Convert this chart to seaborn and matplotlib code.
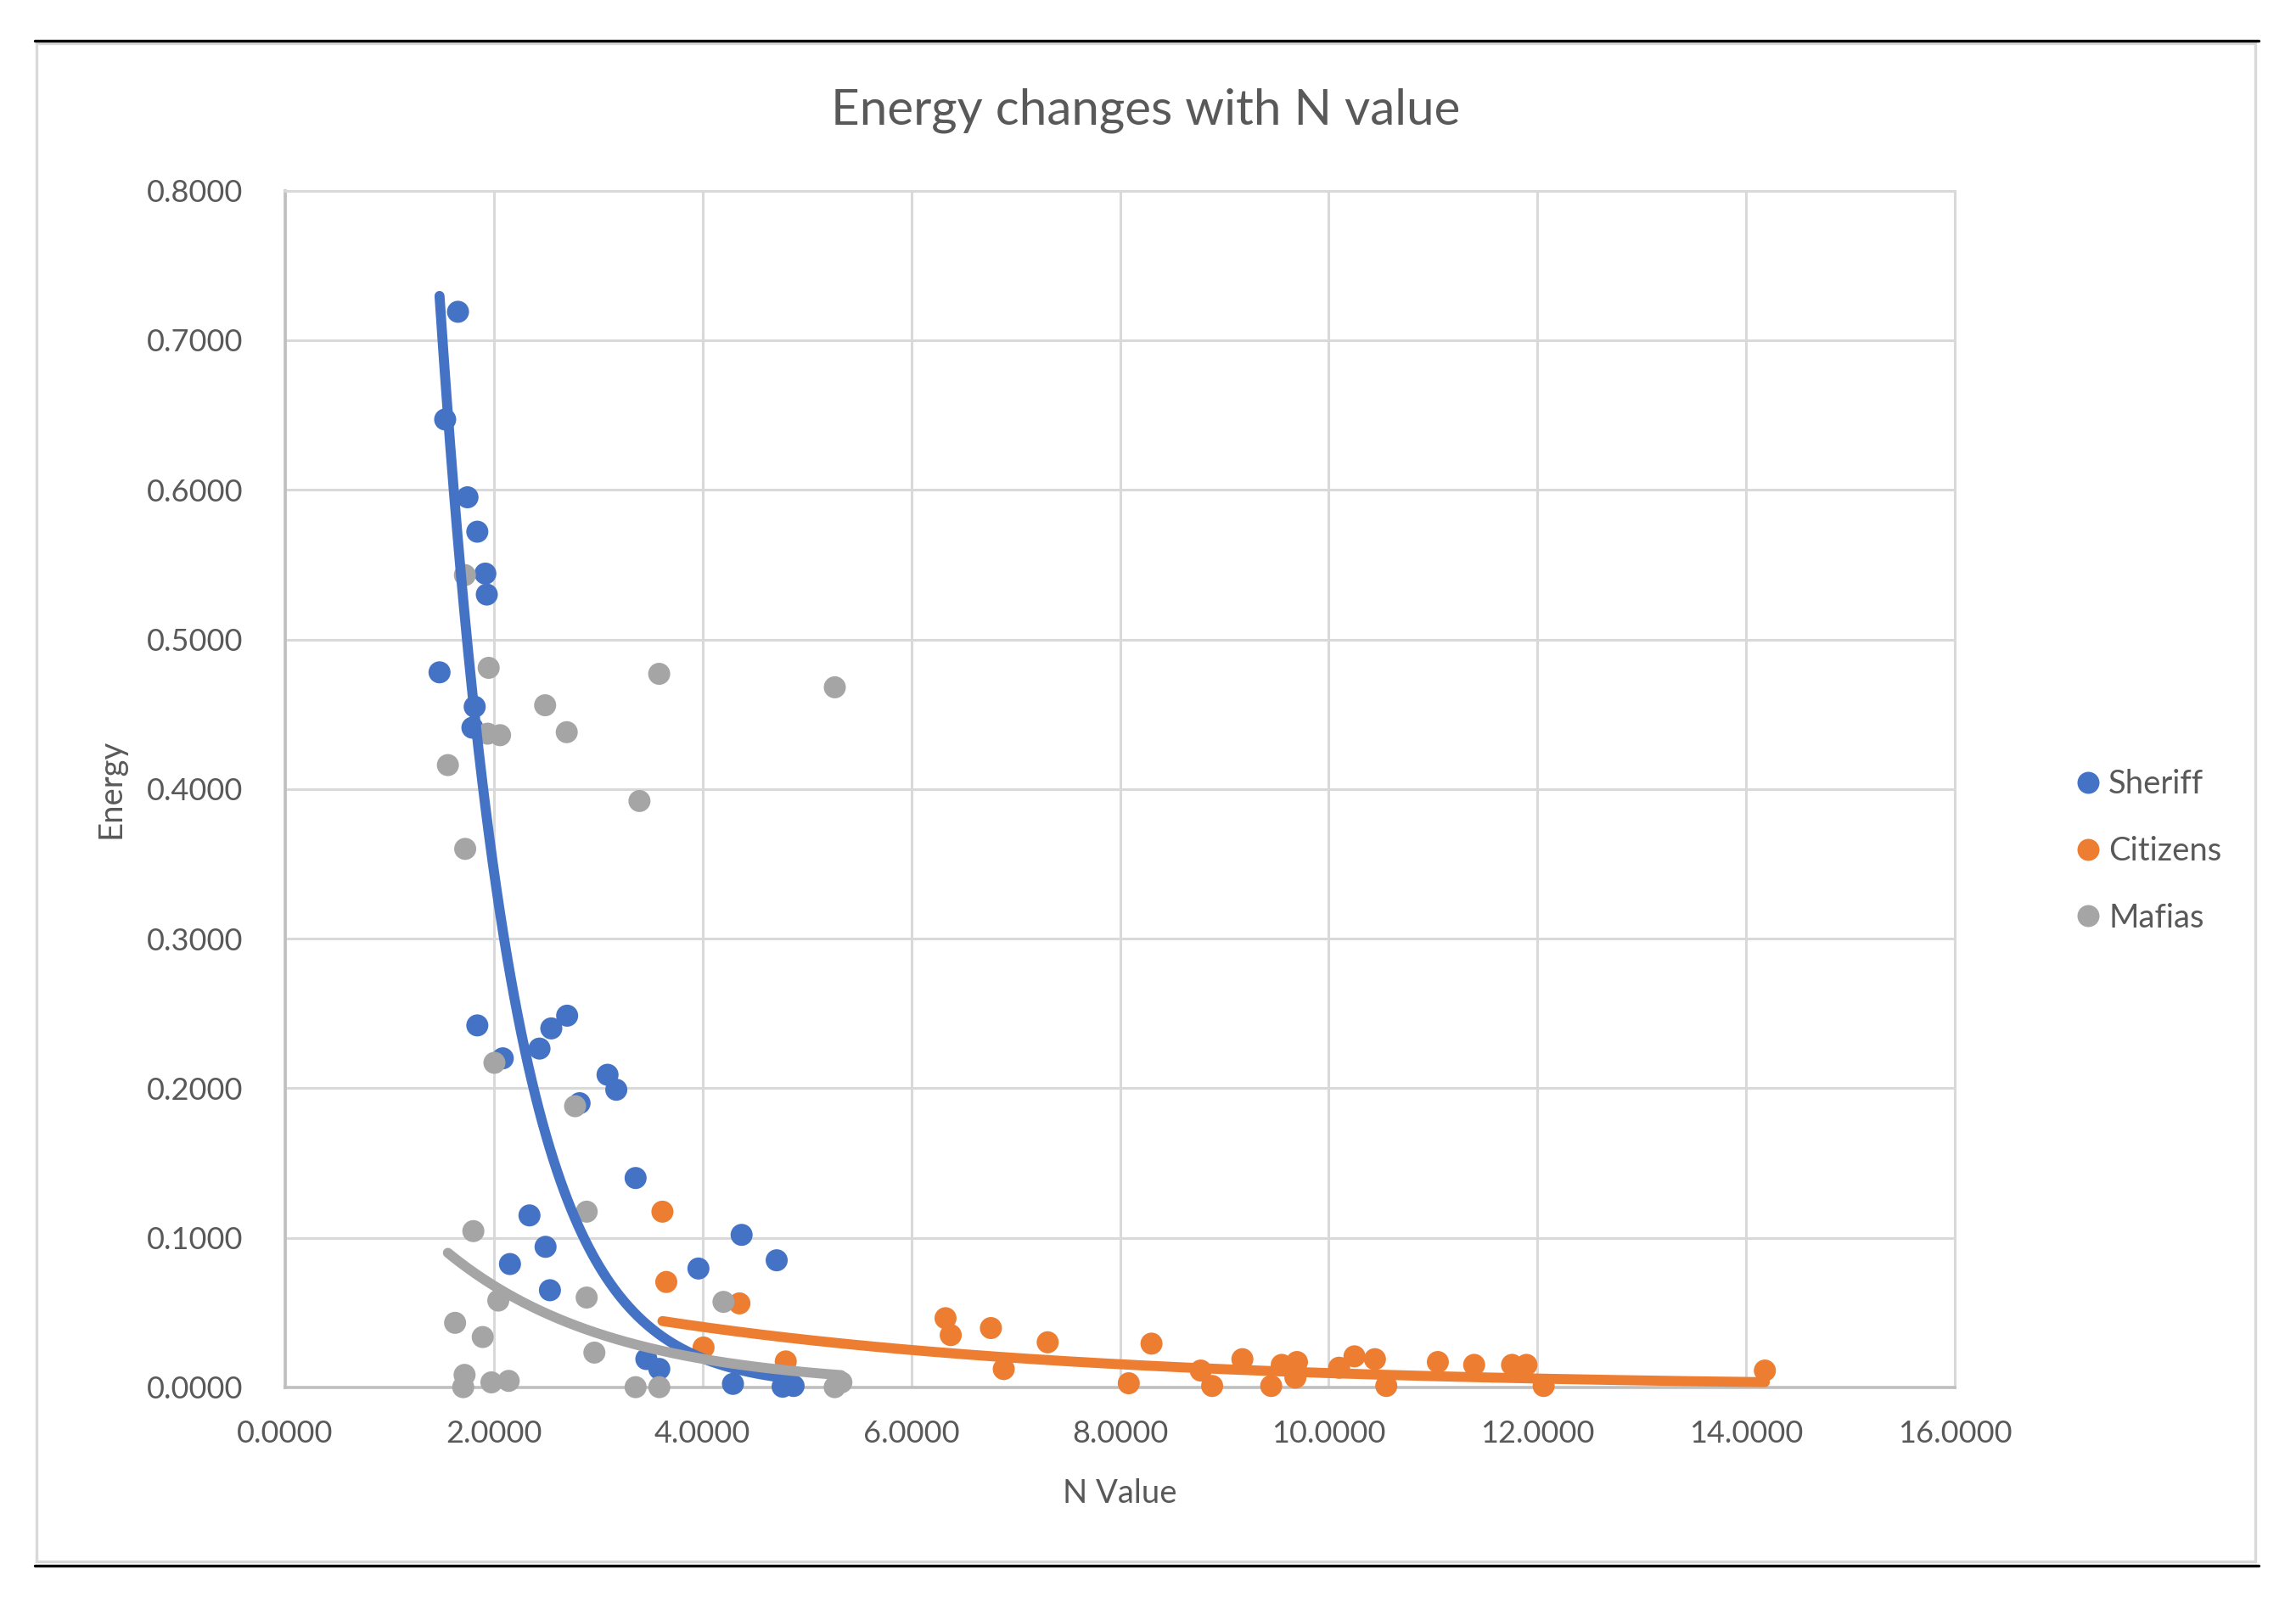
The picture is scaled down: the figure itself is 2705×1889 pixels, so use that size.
import numpy as np
import pandas as pd
import matplotlib
matplotlib.use("Agg")
import matplotlib.pyplot as plt
from matplotlib.lines import Line2D
from matplotlib.patches import Rectangle
from matplotlib.ticker import FormatStrFormatter
import seaborn as sns

# ---------------- data ----------------
sheriff_n = [1.656, 1.533, 1.747, 1.841, 1.918, 1.932, 1.479, 1.816, 1.794,
             1.841, 2.702, 2.550, 2.437, 2.085, 3.089, 3.173, 2.821, 3.358,
             2.341, 2.495, 2.154, 2.537, 3.960, 4.374, 4.710, 3.461, 3.585,
             4.291, 4.767, 4.872]
sheriff_energy = [0.719, 0.647, 0.595, 0.572, 0.544, 0.530, 0.478, 0.455, 0.441,
                  0.242, 0.2485, 0.240, 0.2265, 0.220, 0.209, 0.199, 0.190, 0.140,
                  0.115, 0.094, 0.0825, 0.065, 0.0795, 0.102, 0.085, 0.019, 0.0124,
                  0.0024, 0.0005, 0.0010]

citizens_n = [3.615, 3.652, 4.009, 4.353, 4.797, 6.328, 6.378, 6.763, 6.886,
              7.307, 8.084, 8.302, 8.774, 8.883, 9.173, 9.449, 9.550, 9.681,
              9.696, 10.100, 10.247, 10.443, 10.552, 11.046, 11.394, 11.757,
              11.895, 12.060, 14.180]
citizens_energy = [0.1175, 0.0705, 0.0267, 0.0562, 0.0174, 0.0463, 0.0350, 0.0397,
                   0.0123, 0.0302, 0.0028, 0.0293, 0.0113, 0.0010, 0.0189, 0.0010,
                   0.0151, 0.0066, 0.0170, 0.0132, 0.0208, 0.0189, 0.0010, 0.0170,
                   0.0151, 0.0151, 0.0151, 0.0010, 0.0113]

mafias_n = [1.722, 1.950, 3.584, 5.267, 2.491, 2.698, 2.059, 1.940, 1.559,
            3.395, 1.725, 2.005, 2.778, 2.889, 1.803, 2.042, 2.889, 4.200,
            1.628, 1.893, 2.963, 1.719, 1.706, 1.976, 2.142, 3.358, 3.585,
            5.266, 5.330]
mafias_energy = [0.543, 0.481, 0.477, 0.468, 0.456, 0.438, 0.436, 0.437, 0.416,
                 0.392, 0.360, 0.217, 0.188, 0.1175, 0.1045, 0.0581, 0.0601, 0.0572,
                 0.0432, 0.0337, 0.0233, 0.0084, 0.0002, 0.0034, 0.0044, 0.0002,
                 0.0002, 0.0002, 0.0034]

series_names = ["Sheriff", "Citizens", "Mafias"]
series_colors = {"Sheriff": "#4472C4", "Citizens": "#ED7D31", "Mafias": "#A5A5A5"}

x_ticks = [0, 2, 4, 6, 8, 10, 12, 14, 16]
y_ticks = [0.0, 0.1, 0.2, 0.3, 0.4, 0.5, 0.6, 0.7, 0.8]

chart_title = "Energy changes with N value"
x_title = "N Value"
y_title = "Energy"

# ---------------- style ----------------
sns.set_style("white")
plt.rcParams["font.family"] = ["Lato", "DejaVu Sans"]
TEXT = "#595959"
GRID = "#D9D9D9"
AXIS = "#BFBFBF"

W, H = 2705, 1889
DPI = 100
fig = plt.figure(figsize=(W / DPI, H / DPI), dpi=DPI, facecolor="white")

# plot area in pixels
PL, PR, PT, PB = 336, 2303, 224.6, 1635
ax = fig.add_axes([PL / W, 1 - PB / H, (PR - PL) / W, (PB - PT) / H])

df = pd.concat([
    pd.DataFrame({"N": sheriff_n, "Energy": sheriff_energy, "Series": "Sheriff"}),
    pd.DataFrame({"N": citizens_n, "Energy": citizens_energy, "Series": "Citizens"}),
    pd.DataFrame({"N": mafias_n, "Energy": mafias_energy, "Series": "Mafias"}),
], ignore_index=True)

sns.scatterplot(data=df, x="N", y="Energy", hue="Series", hue_order=series_names,
                palette=series_colors, s=350, linewidth=0, legend=False,
                ax=ax, zorder=3)
for coll in ax.collections:
    coll.set_clip_on(False)

# exponential trendlines (least squares on log(y), like Excel)
for name, xs, ys in [("Sheriff", sheriff_n, sheriff_energy),
                     ("Citizens", citizens_n, citizens_energy),
                     ("Mafias", mafias_n, mafias_energy)]:
    xs = np.asarray(xs, dtype=float)
    ys = np.asarray(ys, dtype=float)
    b, lna = np.polyfit(xs, np.log(ys), 1)
    xf = np.linspace(xs.min(), xs.max(), 300)
    ax.plot(xf, np.exp(lna + b * xf), color=series_colors[name], lw=8.5,
            solid_capstyle="round", zorder=4, clip_on=False)

ax.set_xlim(0, 16)
ax.set_ylim(0, 0.8)
ax.set_xticks(x_ticks)
ax.set_yticks(y_ticks)
ax.xaxis.set_major_formatter(FormatStrFormatter("%.4f"))
ax.yaxis.set_major_formatter(FormatStrFormatter("%.4f"))
ax.grid(True, color=GRID, lw=2.2)
ax.set_axisbelow(True)
ax.tick_params(axis="both", length=0, labelsize=26, labelcolor=TEXT)
ax.tick_params(axis="x", pad=27)
ax.tick_params(axis="y", pad=36)

for side in ["top", "right"]:
    ax.spines[side].set_color(GRID)
    ax.spines[side].set_linewidth(2.2)
for side in ["left", "bottom"]:
    ax.spines[side].set_color(AXIS)
    ax.spines[side].set_linewidth(2.6)

ax.set_xlabel(x_title, fontsize=27.5, color=TEXT)
ax.set_ylabel(y_title, fontsize=27.5, color=TEXT)
ax.xaxis.set_label_coords(0.5, (PB - 1760) / (PB - PT))
ax.xaxis.label.set_va("center")
ax.yaxis.set_label_coords((130 - PL) / (PR - PL), 0.5)
ax.yaxis.label.set_va("center")

fig.text(1350 / W, 1 - 146.7 / H, chart_title, ha="center", va="baseline",
         fontsize=42, color=TEXT)

handles = [Line2D([], [], marker="o", linestyle="", markersize=18.7,
                  markerfacecolor=series_colors[n], markeredgewidth=0)
           for n in series_names]
fig.legend(handles, series_names, loc="center left",
           bbox_to_anchor=(2447 / W, 1 - 1003 / H), frameon=False,
           handlelength=0.7, handletextpad=0.27, labelspacing=1.12,
           borderpad=0, borderaxespad=0, fontsize=27.5, labelcolor=TEXT)

# chart-area border and the black rules of the screenshot
fig.add_artist(Rectangle((43 / W, 1 - 1840 / H), (2657 - 43) / W, (1840 - 51) / H,
                         transform=fig.transFigure, fill=False,
                         edgecolor=GRID, lw=2.4))
for yy in (47.5, 1844.5):
    fig.add_artist(Line2D([41 / W, 2661 / W], [1 - yy / H, 1 - yy / H],
                          transform=fig.transFigure, color="black", lw=2.4))

fig.savefig("out.png", dpi=DPI, facecolor="white")
